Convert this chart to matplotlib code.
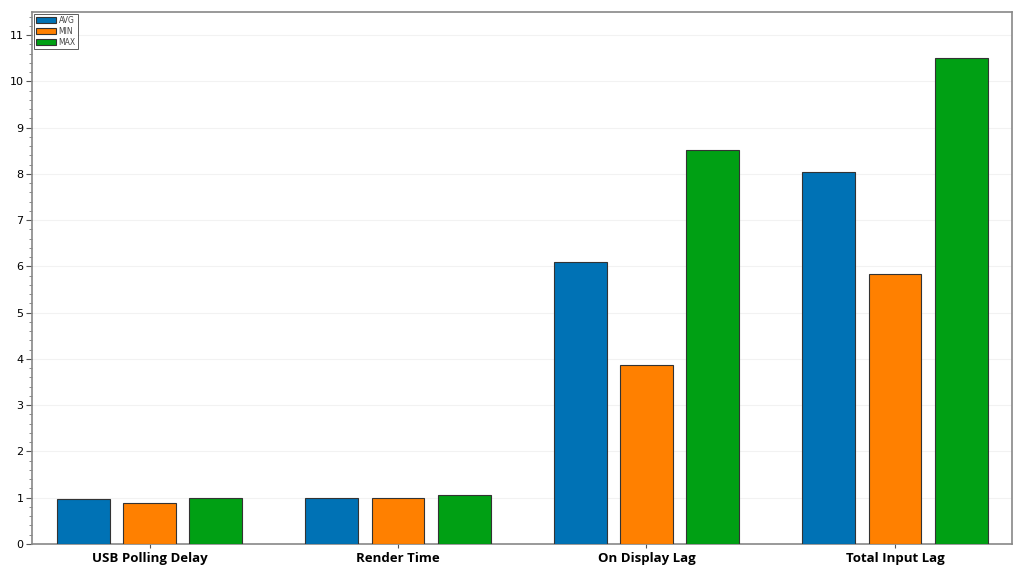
import matplotlib
matplotlib.use("Agg")
import matplotlib.pyplot as plt
import numpy as np
from matplotlib.ticker import MultipleLocator

categories = ["USB Polling Delay", "Render Time", "On Display Lag", "Total Input Lag"]
series_names = ["AVG", "MIN", "MAX"]
avg_vals = [0.97, 0.99, 6.09, 8.05]
min_vals = [0.88, 0.99, 3.875, 5.84]
max_vals = [0.99, 1.06, 8.52, 10.50]
colors = ["#0072b5", "#ff8000", "#00a014"]

fig = plt.figure(figsize=(10.24, 5.76), dpi=100)
ax = fig.add_axes([32/1024, 1-544/576, (1012-32)/1024, (544-12)/576])

x = np.arange(len(categories))
width = 0.213
step = 0.266
for i, (name, vals, c) in enumerate(zip(series_names, [avg_vals, min_vals, max_vals], colors)):
    ax.bar(x + (i-1)*step, vals, width, color=c, edgecolor="#333333", linewidth=0.8,
           label=name, zorder=3)

ax.set_xlim(-0.473, 3.471)
ax.set_ylim(0, 11.5)
ax.set_xticks(x)
ax.set_xticklabels(categories, fontsize=9.5, fontweight="bold", family="Open Sans")
ax.yaxis.set_major_locator(MultipleLocator(1))
ax.yaxis.set_minor_locator(MultipleLocator(0.2))
ax.tick_params(axis="y", labelsize=8, length=4, color="#555555", pad=2)
ax.tick_params(axis="y", which="minor", length=2, color="#777777")
ax.tick_params(axis="x", length=3, color="#555555", pad=3)
ax.grid(axis="y", color="#f2f2f2", linewidth=0.8, zorder=0)
for s in ax.spines.values():
    s.set_color("#888888")
    s.set_linewidth(1.2)

leg = ax.legend(loc="upper left", fontsize=5.5, frameon=True, fancybox=False,
                edgecolor="#333333", borderpad=0.3, handlelength=2.6, handleheight=0.8,
                labelspacing=0.25, borderaxespad=0.2, handletextpad=0.4)
leg.get_frame().set_linewidth(0.7)
for t in leg.get_texts():
    t.set_color("#444444")

fig.savefig("out.png", dpi=100)
